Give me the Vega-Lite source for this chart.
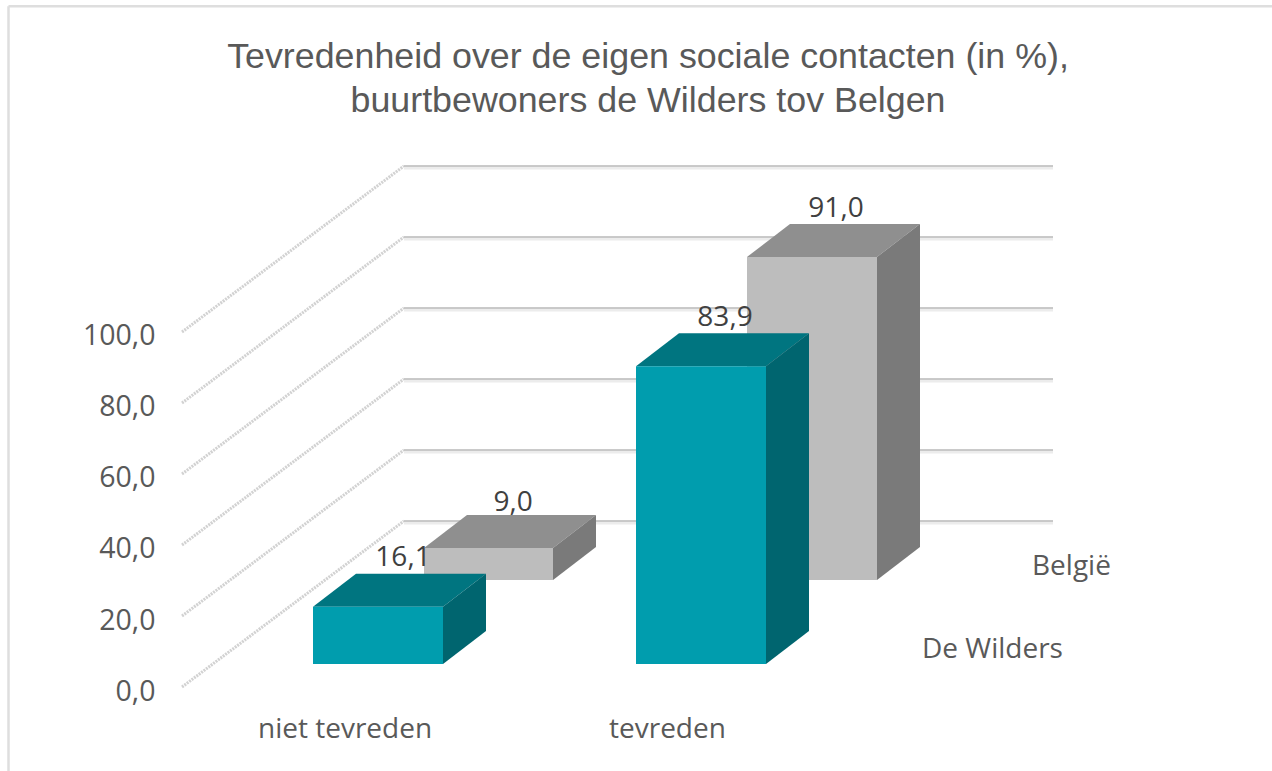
{
"$schema":"https://vega.github.io/schema/vega-lite/v6.json",
"width":1090,"height":631,
"autosize":{"type":"none"},
"padding":{"left":182,"top":140,"right":0,"bottom":0},
"background":"white",
"config":{"view":{"stroke":null}},
"title":{"text":["Tevredenheid over de eigen sociale contacten (in %),","buurtbewoners de Wilders tov Belgen"],"font":"Liberation Sans","fontSize":35.8,"fontWeight":"normal","color":"#595959","lineHeight":44,"anchor":"middle","frame":"group","dx":-79,"offset":-115},
"datasets":{
"balken":[
{"categorie":"niet tevreden","reeks":"België","kleur":"grijs voor","waarde":9.0,"label":"9,0","links":424,"rechts":553,"basis":30.14,"top":39.14,"labelx":513,"labely":49.58},
{"categorie":"tevreden","reeks":"België","kleur":"grijs voor","waarde":91.0,"label":"91,0","links":747,"rechts":877,"basis":30.14,"top":121.14,"labelx":836,"labely":132.39},
{"categorie":"niet tevreden","reeks":"De Wilders","kleur":"teal voor","waarde":16.1,"label":"16,1","links":313,"rechts":443,"basis":6.48,"top":22.58,"labelx":403,"labely":34.08},
{"categorie":"tevreden","reeks":"De Wilders","kleur":"teal voor","waarde":83.9,"label":"83,9","links":636,"rechts":766,"basis":6.48,"top":90.38,"labelx":725,"labely":101.69}
],
"vlakken":[
{"vlak":"b1t","reeks":"België","kleur":"grijs boven","x":424,"y":39.14,"y2":39.14},
{"vlak":"b1t","reeks":"België","kleur":"grijs boven","x":467,"y":48.44,"y2":39.14},
{"vlak":"b1t","reeks":"België","kleur":"grijs boven","x":553,"y":48.44,"y2":39.14},
{"vlak":"b1t","reeks":"België","kleur":"grijs boven","x":596,"y":48.44,"y2":48.44},
{"vlak":"b1s","reeks":"België","kleur":"grijs zij","x":553,"y":39.14,"y2":30.14},
{"vlak":"b1s","reeks":"België","kleur":"grijs zij","x":596,"y":48.44,"y2":39.44},
{"vlak":"b2t","reeks":"België","kleur":"grijs boven","x":747,"y":121.14,"y2":121.14},
{"vlak":"b2t","reeks":"België","kleur":"grijs boven","x":790,"y":130.44,"y2":121.14},
{"vlak":"b2t","reeks":"België","kleur":"grijs boven","x":877,"y":130.44,"y2":121.14},
{"vlak":"b2t","reeks":"België","kleur":"grijs boven","x":920,"y":130.44,"y2":130.44},
{"vlak":"b2s","reeks":"België","kleur":"grijs zij","x":877,"y":121.14,"y2":30.14},
{"vlak":"b2s","reeks":"België","kleur":"grijs zij","x":920,"y":130.44,"y2":39.44},
{"vlak":"w1t","reeks":"De Wilders","kleur":"teal boven","x":313,"y":22.58,"y2":22.58},
{"vlak":"w1t","reeks":"De Wilders","kleur":"teal boven","x":356,"y":31.88,"y2":22.58},
{"vlak":"w1t","reeks":"De Wilders","kleur":"teal boven","x":443,"y":31.88,"y2":22.58},
{"vlak":"w1t","reeks":"De Wilders","kleur":"teal boven","x":486,"y":31.88,"y2":31.88},
{"vlak":"w1s","reeks":"De Wilders","kleur":"teal zij","x":443,"y":22.58,"y2":6.48},
{"vlak":"w1s","reeks":"De Wilders","kleur":"teal zij","x":486,"y":31.88,"y2":15.78},
{"vlak":"w2t","reeks":"De Wilders","kleur":"teal boven","x":636,"y":90.38,"y2":90.38},
{"vlak":"w2t","reeks":"De Wilders","kleur":"teal boven","x":679,"y":99.68,"y2":90.38},
{"vlak":"w2t","reeks":"De Wilders","kleur":"teal boven","x":766,"y":99.68,"y2":90.38},
{"vlak":"w2t","reeks":"De Wilders","kleur":"teal boven","x":809,"y":99.68,"y2":99.68},
{"vlak":"w2s","reeks":"De Wilders","kleur":"teal zij","x":766,"y":90.38,"y2":6.48},
{"vlak":"w2s","reeks":"De Wilders","kleur":"teal zij","x":809,"y":99.68,"y2":15.78}
],
"raster":[
{"niveau":0,"x":182,"y":0},{"niveau":0,"x":404,"y":46.76},
{"niveau":20,"x":182,"y":20},{"niveau":20,"x":404,"y":66.76},
{"niveau":40,"x":182,"y":40},{"niveau":40,"x":404,"y":86.76},
{"niveau":60,"x":182,"y":60},{"niveau":60,"x":404,"y":106.76},
{"niveau":80,"x":182,"y":80},{"niveau":80,"x":404,"y":126.76},
{"niveau":100,"x":182,"y":100},{"niveau":100,"x":404,"y":146.76}
],
"achterwand":[
{"niveau":0,"x":404,"x2":1053,"y":46.76},
{"niveau":20,"x":404,"x2":1053,"y":66.76},
{"niveau":40,"x":404,"x2":1053,"y":86.76},
{"niveau":60,"x":404,"x2":1053,"y":106.76},
{"niveau":80,"x":404,"x2":1053,"y":126.76},
{"niveau":100,"x":404,"x2":1053,"y":146.76}
],
"teksten":[
{"tekst":"niet tevreden","x":258,"y":-14.37},
{"tekst":"tevreden","x":609,"y":-14.37},
{"tekst":"België","x":1032,"y":31.55},
{"tekst":"De Wilders","x":922,"y":8.17}
],
"kader":[
{"zijde":"boven","x":8.5,"x2":1272,"y":191.75,"y2":191.75},
{"zijde":"links","x":8.5,"x2":8.5,"y":191.75,"y2":-23.66}
]
},
"encoding":{
"x":{"field":"x","type":"quantitative","scale":{"domain":[182,1272],"nice":false,"zero":false},"axis":null},
"y":{"field":"y","type":"quantitative","stack":null,"scale":{"domain":[-23.66,154.08],"nice":false,"zero":false},
"axis":{"values":[0,20,40,60,80,100],"title":null,"domain":false,"ticks":false,"grid":false,"labelPadding":27,"labelFontSize":28.5,"labelFont":"Open Sans","labelColor":"#595959","labelOffset":4,"labelExpr":"replace(format(datum.value,'.1f'),'.',',')"}}
},
"layer":[
{"data":{"name":"kader"},"mark":{"type":"rule","stroke":"#dedede","strokeWidth":2.5},"encoding":{"x2":{"field":"x2"},"y2":{"field":"y2"}}},
{"data":{"name":"raster"},"mark":{"type":"line","stroke":"#d2d2d2","strokeWidth":3,"strokeDash":[2,1]},"encoding":{"detail":{"field":"niveau"}}},
{"data":{"name":"achterwand"},"mark":{"type":"rule","stroke":"#ececec","strokeWidth":3,"yOffset":2},"encoding":{"x2":{"field":"x2"}}},
{"data":{"name":"achterwand"},"mark":{"type":"rule","stroke":"#b8b8b8","strokeWidth":1.5},"encoding":{"x2":{"field":"x2"}}},
{"data":{"name":"vlakken"},"transform":[{"filter":"datum.reeks==='België'"}],"mark":{"type":"area"},"encoding":{"y2":{"field":"y2"},"detail":{"field":"vlak"},"color":{"field":"kleur","type":"nominal","legend":null,"scale":{"domain":["grijs voor","grijs boven","grijs zij","teal voor","teal boven","teal zij"],"range":["#bdbdbd","#8f8f8f","#7a7a7a","#009dae","#007580","#00656f"]}}}},
{"data":{"name":"balken"},"transform":[{"filter":"datum.reeks==='België'"}],"mark":{"type":"rect"},"encoding":{"x":{"field":"links","type":"quantitative"},"x2":{"field":"rechts"},"y":{"field":"basis","type":"quantitative"},"y2":{"field":"top"},"color":{"field":"kleur","type":"nominal","legend":null}}},
{"data":{"name":"vlakken"},"transform":[{"filter":"datum.reeks==='De Wilders'"}],"mark":{"type":"area"},"encoding":{"y2":{"field":"y2"},"detail":{"field":"vlak"},"color":{"field":"kleur","type":"nominal","legend":null}}},
{"data":{"name":"balken"},"transform":[{"filter":"datum.reeks==='De Wilders'"}],"mark":{"type":"rect"},"encoding":{"x":{"field":"links","type":"quantitative"},"x2":{"field":"rechts"},"y":{"field":"basis","type":"quantitative"},"y2":{"field":"top"},"color":{"field":"kleur","type":"nominal","legend":null}}},
{"data":{"name":"balken"},"mark":{"type":"text","font":"Open Sans","fontSize":28,"color":"#404040","align":"center","baseline":"alphabetic"},"encoding":{"x":{"field":"labelx","type":"quantitative"},"y":{"field":"labely","type":"quantitative"},"text":{"field":"label"}}},
{"data":{"name":"teksten"},"mark":{"type":"text","font":"Open Sans","fontSize":28,"color":"#595959","align":"left","baseline":"alphabetic"},"encoding":{"text":{"field":"tekst"}}}
]
}
